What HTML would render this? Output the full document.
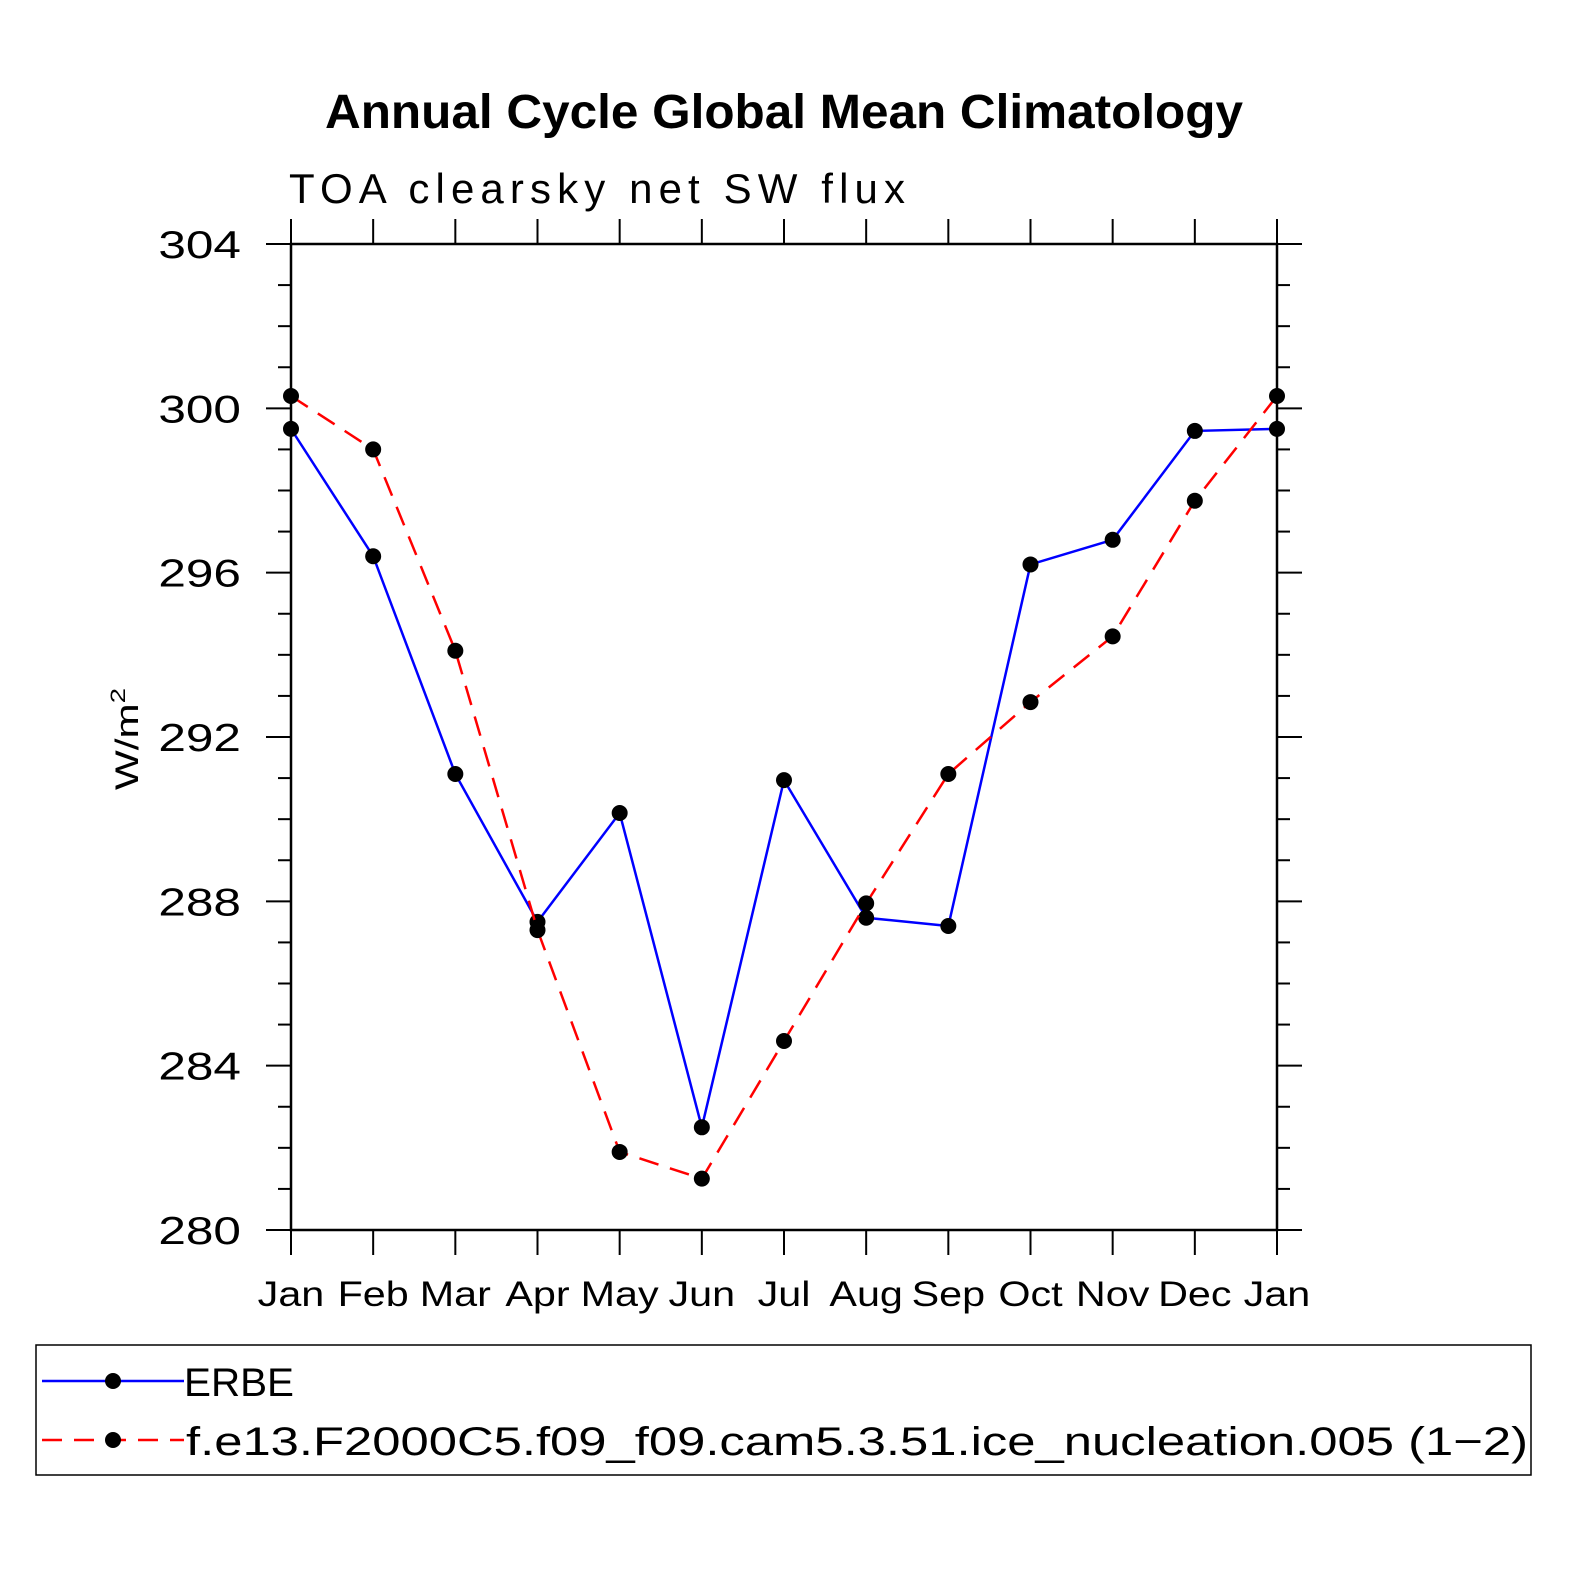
<!DOCTYPE html>
<html><head><meta charset="utf-8"><style>
body{margin:0;background:#fff;}
svg text{font-family:"Liberation Sans",sans-serif;}
</style></head><body>
<svg id="chart" width="1574" height="1574" viewBox="0 0 1574 1574" xmlns="http://www.w3.org/2000/svg">
<rect width="1574" height="1574" fill="#fff"/>
<text x="325" y="128" font-size="48" font-weight="bold" textLength="918" lengthAdjust="spacingAndGlyphs">Annual Cycle Global Mean Climatology</text>
<text x="289" y="203" font-size="42" textLength="616" lengthAdjust="spacing">TOA clearsky net SW flux</text>
<text transform="translate(138,790) rotate(-90)" font-size="32" textLength="102" lengthAdjust="spacingAndGlyphs">W/m<tspan dy="-13" font-size="21">2</tspan></text>
<g id="axes"></g>
<g id="series"></g>
<rect x="36" y="1345" width="1495" height="130" fill="none" stroke="#000" stroke-width="1.5"/>
<g>
<line x1="42" y1="1381" x2="184" y2="1381" stroke="#0000ff" stroke-width="2.5"/>
<circle cx="113" cy="1381" r="8" fill="#000"/>
<text x="184" y="1396" font-size="40" textLength="110" lengthAdjust="spacingAndGlyphs">ERBE</text>
</g>
<g>
<line x1="42" y1="1440" x2="184" y2="1440" stroke="#ff0000" stroke-width="2.5" stroke-dasharray="20,12"/>
<circle cx="113" cy="1440" r="8" fill="#000"/>
<text x="186" y="1455" font-size="40" textLength="1342" lengthAdjust="spacingAndGlyphs">f.e13.F2000C5.f09_f09.cam5.3.51.ice_nucleation.005 (1−2)</text>
</g>
</svg>
<script>
const months=["Jan","Feb","Mar","Apr","May","Jun","Jul","Aug","Sep","Oct","Nov","Dec","Jan"];
const erbe=[299.5,296.4,291.1,287.5,290.15,282.5,290.95,287.6,287.4,296.2,296.8,299.45,299.5];
const model=[300.3,299.0,294.1,287.3,281.9,281.25,284.6,287.95,291.1,292.85,294.45,297.75,300.3];
const yTicks=[280,284,288,292,296,300,304];
const X0=291,X1=1277,Y0=1230,Y1=244,ymin=280,ymax=304;
const xs=i=>X0+(X1-X0)*i/(months.length-1);
const ys=v=>Y0-(Y0-Y1)*(v-ymin)/(ymax-ymin);
const NS="http://www.w3.org/2000/svg";
const ax=document.getElementById('axes'),sg=document.getElementById('series');
function mk(t,a,p){const e=document.createElementNS(NS,t);for(const k in a)e.setAttribute(k,a[k]);p.appendChild(e);return e;}
function widen(t,f){const w=t.getComputedTextLength();t.setAttribute('textLength',w*f);t.setAttribute('lengthAdjust','spacingAndGlyphs');}
const box=mk('rect',{x:X0,y:Y1,width:X1-X0,height:Y0-Y1,fill:'none',stroke:'#000','stroke-width':2.5},ax);


for(let v=ymin;v<=ymax;v+=1){const y=ys(v),maj=(v%4===0);const L=maj?25:13;
 mk('line',{x1:X0-L,y1:y,x2:X0,y2:y,stroke:'#000','stroke-width':2},ax);
 mk('line',{x1:X1,y1:y,x2:X1+L,y2:y,stroke:'#000','stroke-width':2},ax);}
yTicks.forEach(v=>{const t=mk('text',{x:241,y:ys(v)+14,'text-anchor':'end','font-size':39},ax);t.textContent=v;
 
 
 widen(t,1.27);});
months.forEach((m,i)=>{const x=xs(i);
 mk('line',{x1:x,y1:Y0,x2:x,y2:Y0+25,stroke:'#000','stroke-width':2},ax);
 mk('line',{x1:x,y1:Y1-25,x2:x,y2:Y1,stroke:'#000','stroke-width':2},ax);
 const t=mk('text',{x:x,y:1306,'text-anchor':'middle','font-size':35},ax);t.textContent=m;
 
 
 widen(t,1.18);});
function series(vals,col,dash,name){
 const pl=mk('polyline',{points:vals.map((v,i)=>xs(i)+','+ys(v)).join(' '),fill:'none',stroke:col,'stroke-width':2.5},sg);
 if(dash)pl.setAttribute('stroke-dasharray',dash);
 
 
 vals.forEach((v,i)=>{const c=mk('circle',{cx:xs(i),cy:ys(v),r:8,fill:'#000'},sg);
  
  });}
series(erbe,'#0000ff',null,'erbe');
series(model,'#ff0000','20,12','model');
</script>
</body></html>
